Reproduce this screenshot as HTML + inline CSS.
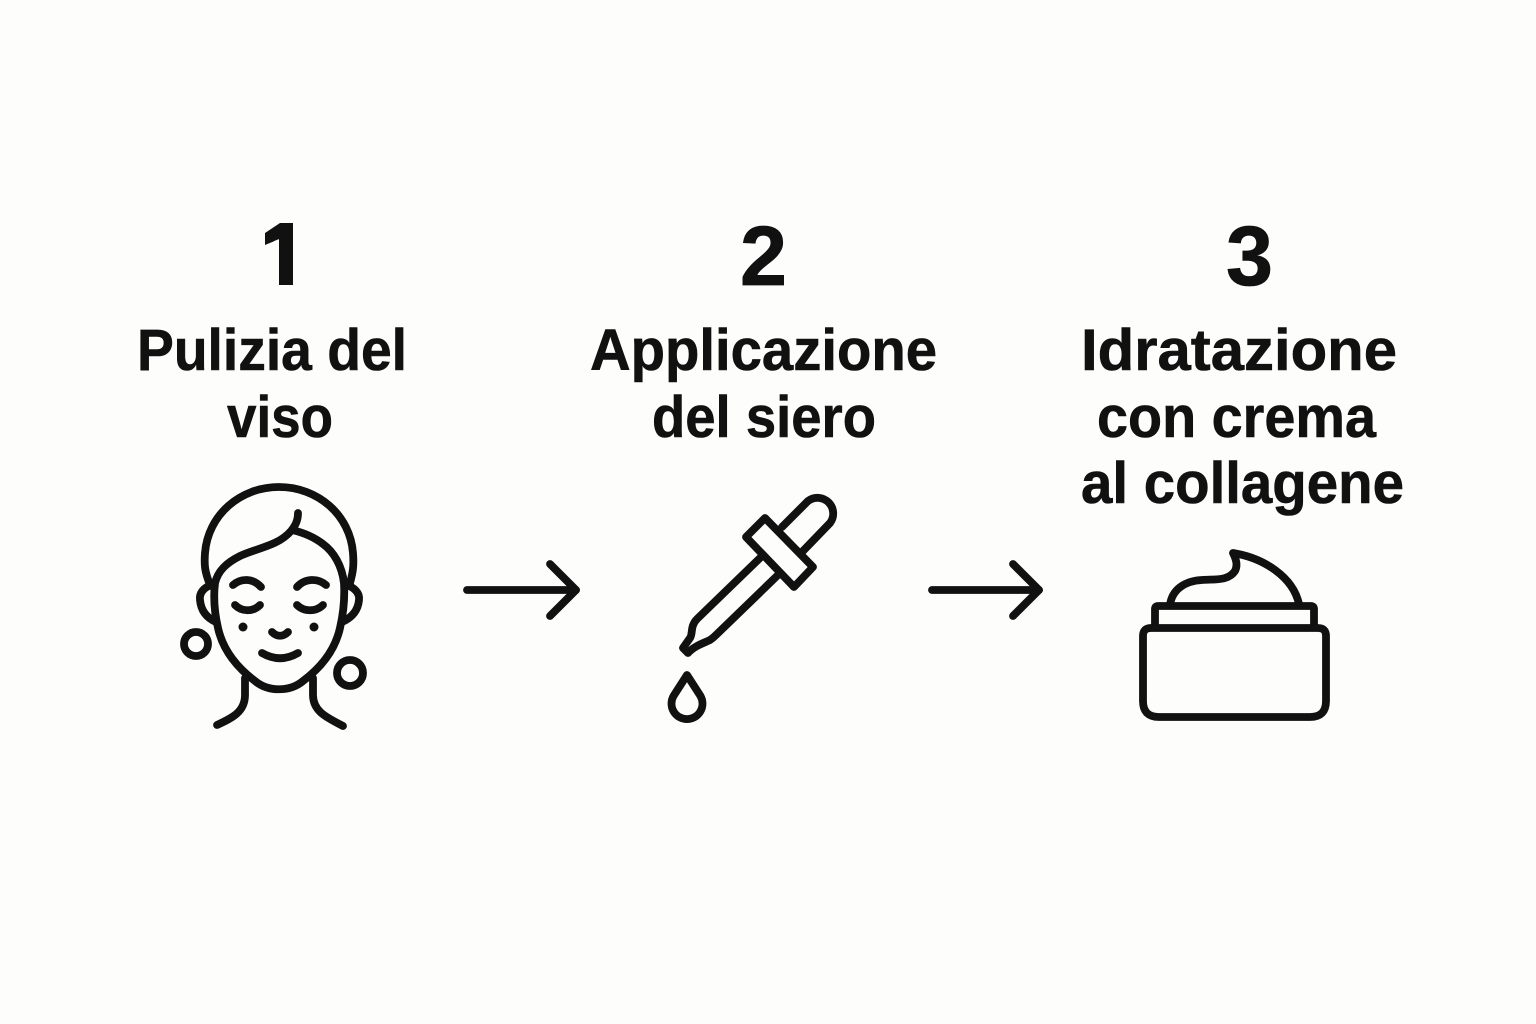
<!DOCTYPE html>
<html lang="it">
<head>
<meta charset="utf-8">
<title>Routine viso</title>
<style>
html,body{margin:0;padding:0;background:#fdfdfb;}
svg{display:block;}
text{font-family:"Liberation Sans",Arial,sans-serif;font-weight:700;fill:#111;stroke:#111;}
.t{font-size:58px;stroke-width:.6px;}
.n{font-size:84px;stroke-width:.8px;}
.s{fill:none;stroke:#111;stroke-width:7.8;stroke-linecap:round;stroke-linejoin:round;}
</style>
</head>
<body>
<svg width="1536" height="1024" viewBox="0 0 1536 1024" xmlns="http://www.w3.org/2000/svg">
<defs>
<clipPath id="one"><polygon points="280,223 293,223 293,285 279,285 279,239 265,245 265,233"/></clipPath>
</defs>
<rect width="1536" height="1024" fill="#fdfdfb"/>

<text class="n" x="265" y="285" textLength="32" lengthAdjust="spacingAndGlyphs" clip-path="url(#one)">1</text>
<polygon points="280,223 293,223 293,285 279,285 279,239 265,245 265,233" fill="#111"/>
<text class="n" x="740" y="285" textLength="47" lengthAdjust="spacingAndGlyphs">2</text>
<text class="n" x="1226" y="285" textLength="47" lengthAdjust="spacingAndGlyphs">3</text>

<text class="t" x="137" y="370" textLength="270" lengthAdjust="spacingAndGlyphs">Pulizia del</text>
<text class="t" x="227" y="437" textLength="106" lengthAdjust="spacingAndGlyphs">viso</text>

<text class="t" x="590" y="370" textLength="347" lengthAdjust="spacingAndGlyphs">Applicazione</text>
<text class="t" x="652" y="437" textLength="224" lengthAdjust="spacingAndGlyphs">del siero</text>

<text class="t" x="1081" y="370" textLength="316" lengthAdjust="spacingAndGlyphs">Idratazione</text>
<text class="t" x="1097" y="437" textLength="279" lengthAdjust="spacingAndGlyphs">con crema</text>
<text class="t" x="1081" y="503" textLength="323" lengthAdjust="spacingAndGlyphs">al collagene</text>

<!-- Face -->
<g class="s">
<path d="M210 585 C205 572 204 566 205 553 C208 515 240 487 279 487 C318 487 350 515 353 553 C354 566 353 572 350 583"/>
<path d="M298 513 C298 521 295 526 291 531 C278 546 257 548 240 556 C226 563 218 571 215 583 C213 600 215 615 218 628 C224 655 243 672 255 681 C268 692 290 692 303 681 C315 672 334 655 340 628 C343 615 345 600 344 583 C342 566 334 552 323 544 C314 537 305 533 292 530"/>
<path d="M212 585 C204 587 199 593 200 600 C201 611 207 618 216 622"/>
<path d="M346 585 C354 587 360 593 359 600 C358 611 351 618 342 622"/>
<path d="M233 585 C241 578 253 578 261 587"/>
<path d="M297 587 C305 578 318 578 326 585"/>
<path d="M235 605 C242 612 253 612 260 605"/>
<path d="M297 605 C304 612 316 612 323 605"/>
<path d="M272 632 C277 637 283 637 288 632"/>
<path d="M262 653 C274 660 286 660 298 653"/>
<circle cx="196" cy="644" r="12"/>
<circle cx="350" cy="673" r="13"/>
<path d="M245 678 L245 695 C245 712 232 718 217 725"/>
<path d="M313 678 L313 695 C313 712 328 718 343 726"/>
</g>
<circle cx="243" cy="627" r="4.5" fill="#111"/>
<circle cx="314" cy="627" r="4.5" fill="#111"/>

<!-- Dropper -->
<g class="s">
<path d="M782 527 L808 501 A15.7 15.7 0 0 1 830 523 L803 551"/>
<path d="M765 518 L813 567 L794 587 L746 537 Z"/>
<path d="M760 558 L697 619 C690 626 693 634 690 638 L683 648 L688 653 C694 646 704 643 710 640 C713 638 714 637 716 635 L778 575"/>
<path d="M687 675 L673.5 696 A15.5 15.5 0 1 0 700.5 696 Z"/>
</g>

<!-- Jar -->
<g class="s">
<path d="M1170 605 C1172 590 1184 581 1202 580 C1216 579 1228 581 1235 571 C1238 565 1236 559 1233 553 C1264 558 1293 577 1299 604"/>
<path d="M1155 627 L1155 609 Q1155 606 1158 606 L1311 606 Q1314 606 1314 609 L1314 627"/>
<path d="M1143 636 Q1143 628 1151 628 L1318 628 Q1326 628 1326 636 L1326 701 Q1326 717 1310 717 L1159 717 Q1143 717 1143 701 Z"/>
</g>

<!-- Arrows -->
<g class="s">
<path d="M467 590 L576 590"/>
<path d="M550 564 L576 590 L550 616"/>
<path d="M932 590 L1039 590"/>
<path d="M1013 564 L1039 590 L1013 616"/>
</g>
</svg>
</body>
</html>
